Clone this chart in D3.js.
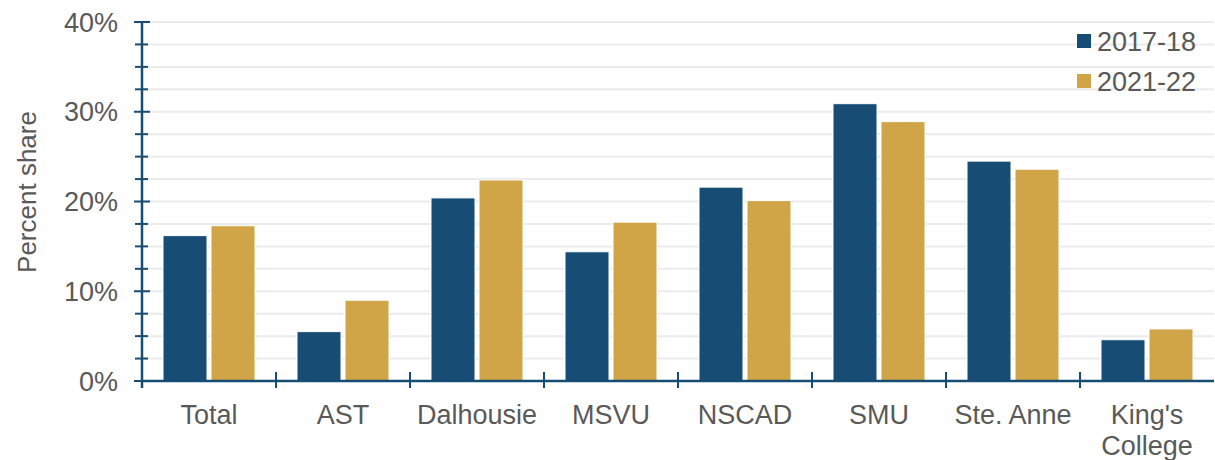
<!DOCTYPE html>
<html>
<head>
<meta charset="utf-8">
<script src="https://cdn.jsdelivr.net/npm/d3@7"></script>
<style>
  body { margin: 0; background: #fff; }
  svg text { font-family: "Liberation Sans", Arial, sans-serif; fill: #595959; }
</style>
</head>
<body>
<div id="chart"></div>
<script>
// categories and the two series (percent share)
const categories = ["Total", "AST", "Dalhousie", "MSVU", "NSCAD", "SMU", "Ste. Anne", "King's College"];
const seriesNames = ["2017-18", "2021-22"];
const values2017 = [16.2, 5.5, 20.4, 14.4, 21.6, 30.9, 24.5, 4.6];
const values2021 = [17.3, 9.0, 22.4, 17.7, 20.1, 28.9, 23.6, 5.8];
const yTicks = [0, 10, 20, 30, 40];
const colors = ["#174D74", "#D0A548"];

const width = 1215, height = 460;
const axisColor = "#174D74";

const svg = d3.select('#chart')
  .append('svg')
    .attr('width', width)
    .attr('height', height);

const x = d3.scaleBand().domain(categories).range([142, 1214]);
const xs = d3.scaleBand().domain(seriesNames)
  .range([21, x.bandwidth() - 21])
  .paddingInner(4 / 48);
const y = d3.scaleLinear().domain([0, 40]).range([381, 22]);

// gridlines every 2.5%
const minor = d3.range(0, 40.01, 2.5);
svg.append('g')
  .selectAll('line')
  .data(minor.filter(d => d > 0))
  .enter()
    .append('line')
    .attr('x1', 143).attr('x2', 1214)
    .attr('y1', d => y(d)).attr('y2', d => y(d))
    .style('stroke', '#EBEBEB')
    .style('stroke-width', 2);

// bars
const series = [values2017, values2021];
series.forEach((vals, si) => {
  svg.append('g')
    .selectAll('rect')
    .data(vals)
    .enter()
      .append('rect')
      .attr('x', (d, i) => x(categories[i]) + xs(seriesNames[si]))
      .attr('y', d => y(d))
      .attr('width', xs.bandwidth())
      .attr('height', d => y(0) - y(d))
      .style('fill', colors[si])
      .style('stroke', '#fff')
      .style('stroke-width', 1);
});

// y axis line + ticks both sides
svg.append('line')
  .attr('x1', 142).attr('x2', 142)
  .attr('y1', y(40)).attr('y2', 388)
  .style('stroke', axisColor).style('stroke-width', 2.5);

svg.append('g')
  .selectAll('line')
  .data(minor)
  .enter()
    .append('line')
    .attr('x1', d => d % 10 === 0 ? 134 : 135)
    .attr('x2', d => d % 10 === 0 ? 150 : 148)
    .attr('y1', d => y(d)).attr('y2', d => y(d))
    .style('stroke', axisColor).style('stroke-width', 2);

svg.append('g')
  .selectAll('text')
  .data(yTicks)
  .enter()
    .append('text')
    .attr('x', 118)
    .attr('y', d => y(d))
    .attr('dy', '0.36em')
    .attr('text-anchor', 'end')
    .style('font-size', '27px')
    .text(d => d + '%');

// x axis line + separator ticks
svg.append('line')
  .attr('x1', 142).attr('x2', 1214)
  .attr('y1', y(0)).attr('y2', y(0))
  .style('stroke', axisColor).style('stroke-width', 2.5);

svg.append('g')
  .selectAll('line')
  .data(categories.slice(1))
  .enter()
    .append('line')
    .attr('x1', d => x(d)).attr('x2', d => x(d))
    .attr('y1', 372).attr('y2', 388)
    .style('stroke', axisColor).style('stroke-width', 2);

// category labels (wrap on two lines when needed)
const xLabels = svg.append('g')
  .selectAll('text')
  .data(categories)
  .enter()
    .append('text')
    .attr('x', d => x(d) + x.bandwidth() / 2)
    .attr('y', 424)
    .attr('text-anchor', 'middle')
    .style('font-size', '27px');
xLabels.each(function(d) {
  const words = d === "King's College" ? ["King's", "College"] : [d];
  d3.select(this).selectAll('tspan')
    .data(words)
    .enter()
      .append('tspan')
      .attr('x', x(d) + x.bandwidth() / 2)
      .attr('dy', (w, i) => i === 0 ? 0 : 31)
      .text(w => w);
});

// y axis title
svg.append('text')
  .attr('transform', 'translate(36,192) rotate(-90)')
  .attr('text-anchor', 'middle')
  .style('font-size', '26px')
  .text('Percent share');

// legend
const legend = svg.append('g')
  .selectAll('g')
  .data(seriesNames)
  .enter()
    .append('g')
    .attr('transform', (d, i) => 'translate(1077,' + (34 + i * 40) + ')');
legend.append('rect')
  .attr('width', 14).attr('height', 14)
  .style('fill', (d, i) => colors[i]);
legend.append('text')
  .attr('x', 20).attr('y', 7)
  .attr('dy', '0.36em')
  .style('font-size', '27px')
  .text(d => d);
</script>
</body>
</html>
